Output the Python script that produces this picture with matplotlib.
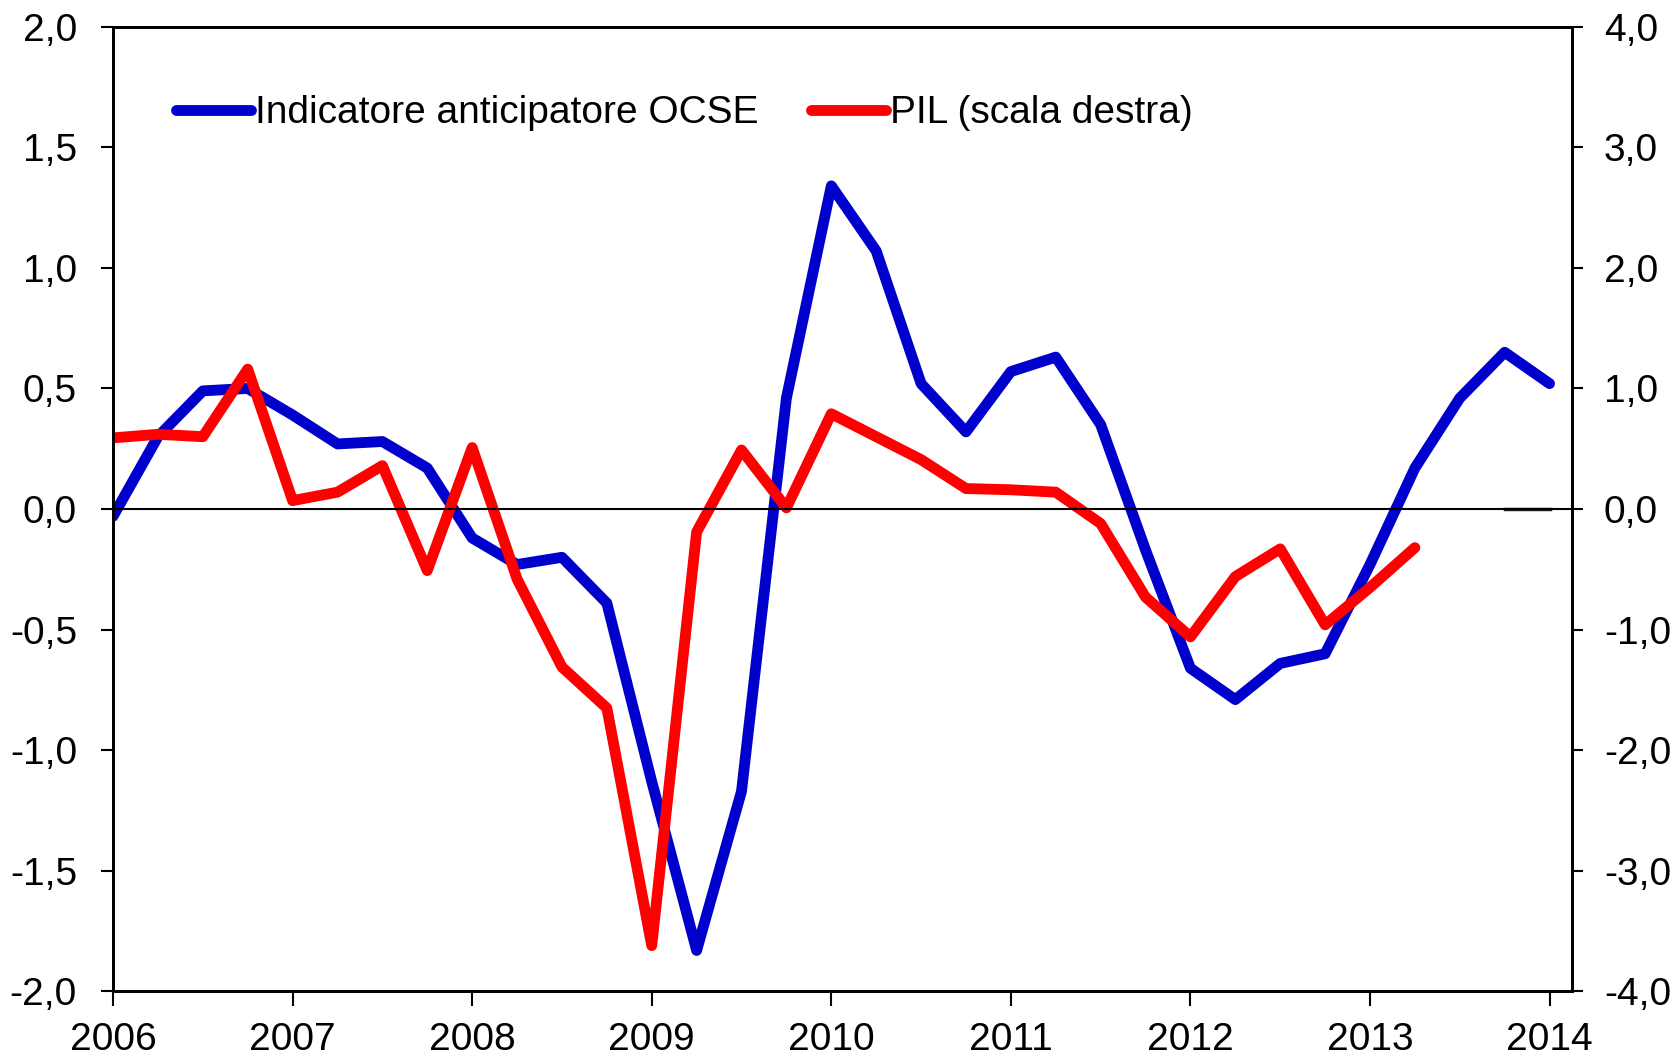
import matplotlib
matplotlib.use('Agg')
import matplotlib.pyplot as plt
import numpy as np

plt.rcParams['font.family'] = ['Liberation Sans', 'DejaVu Sans']

# quarterly dates, 2006Q1 .. 2014Q1
quarters = [2006 + 0.25 * i for i in range(33)]

# OECD leading indicator (left scale)
ocse = [-0.03, 0.30, 0.49, 0.50, 0.39, 0.27, 0.28, 0.17,
        -0.12, -0.23, -0.20, -0.39, -1.13, -1.83, -1.17, 0.46,
        1.34, 1.07, 0.52, 0.32, 0.57, 0.63, 0.35, -0.17,
        -0.66, -0.79, -0.64, -0.60, -0.23, 0.17, 0.46, 0.65, 0.52]

# GDP (right scale), up to 2013Q2
pil = [0.59, 0.62, 0.60, 1.16, 0.07, 0.14, 0.36, -0.51,
       0.51, -0.58, -1.31, -1.65, -3.62, -0.19, 0.49, 0.01,
       0.79, 0.60, 0.41, 0.17, 0.16, 0.14, -0.12, -0.73,
       -1.06, -0.56, -0.33, -0.96, -0.65, -0.32]

# short flat segment at the end of the zero line
extra_x = [2013.75, 2014.0]
extra_y = [0.0, 0.0]

years = list(range(2006, 2015))
left_ticks = [-2.0, -1.5, -1.0, -0.5, 0.0, 0.5, 1.0, 1.5, 2.0]
right_ticks = [-4.0, -3.0, -2.0, -1.0, 0.0, 1.0, 2.0, 3.0, 4.0]

def fmt(v):
    return ('%.1f' % v).replace('.', ',')

fig = plt.figure(figsize=(16.77, 10.58), dpi=100)
ax = fig.add_axes([0.0674, 0.0629, 0.87, 0.9119])
ax2 = ax.twinx()

blue, = ax.plot(quarters, ocse, color='#0000CC', lw=7.8, solid_joinstyle='round',
                solid_capstyle='round', label='Indicatore anticipatore OCSE')
red, = ax2.plot(quarters[:len(pil)], pil, color='#FF0000', lw=7.8, solid_joinstyle='round',
                solid_capstyle='round', label='PIL (scala destra)')
ax2.axhline(0, color='black', lw=1.5, zorder=5)
ax2.plot(extra_x, extra_y, color='#222222', lw=2.5, zorder=4)

ax.set_xlim(2006, 2014.125)
ax.set_ylim(-2, 2)
ax2.set_ylim(-4, 4)

ax.set_xticks(years)
ax.set_xticklabels([str(y) for y in years])
ax.set_yticks(left_ticks)
ax.set_yticklabels([fmt(v) for v in left_ticks])
ax2.set_yticks(right_ticks)
ax2.set_yticklabels([fmt(v) for v in right_ticks])

ax.tick_params(axis='x', direction='out', length=11, width=1.5, pad=11, labelsize=28)
ax.tick_params(axis='y', direction='out', length=9, width=1.5, pad=17, labelsize=28)
ax2.tick_params(axis='y', direction='out', length=8, width=1.5, pad=15, labelsize=28)

for a in (ax, ax2):
    for s in a.spines.values():
        s.set_linewidth(2)
        s.set_color('black')

fig.legend(handles=[blue, red], loc='center left', bbox_to_anchor=(0.1052, 0.893),
           ncol=2, frameon=False, fontsize=28, handlelength=1.93, handletextpad=0.08,
           columnspacing=1.37, borderpad=0, borderaxespad=0)

fig.savefig('out.png', dpi=100)
